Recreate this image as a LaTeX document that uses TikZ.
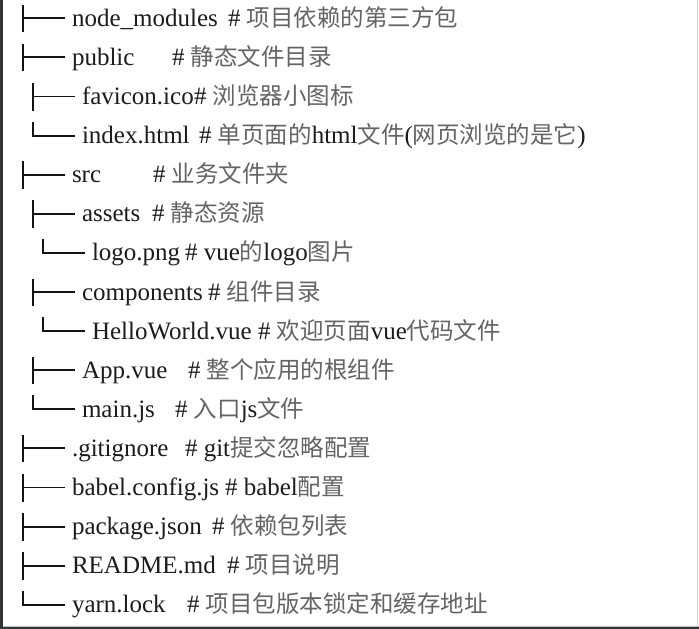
\documentclass[tikz,border=0pt]{standalone}
\usepackage{fontspec}
\setmainfont{Liberation Serif}
\newfontfamily\cjkfont[Scale=0.94]{Noto Sans CJK SC}
\definecolor{txt}{RGB}{28,28,28}
\definecolor{zhtxt}{RGB}{100,100,100}
\definecolor{frame}{RGB}{50,52,56}
\newcommand\zh[1]{{\cjkfont\color{zhtxt}#1}}
\tikzset{
  namestyle/.style={anchor=base west,inner sep=0pt,outer sep=0pt,text=txt,font=\fontsize{25}{29}\selectfont},
  cmtstyle/.style={anchor=base west,inner sep=0pt,outer sep=0pt,text=txt,font=\fontsize{25}{29}\selectfont},
  treeline/.style={draw=black!92,line width=1.9pt}
}
% #1 id, #2 row, #3 vertical x, #4 text x, #5 name, #6 hash x, #7 comment
\newcommand\placeentry[7]{%
  \pgfmathsetmacro\yc{18.3+39.1*(#2-1)}%
  \node[namestyle] (#1) at (#4,\yc+8) {#5};
  \node[cmtstyle] (#1c) at (#6,\yc+8) {#7};
  \coordinate (#1v) at (#3,\yc);
  \coordinate (#1h) at ([xshift=-7pt,yshift=8pt]#1.base west);
}
\newcommand\teeentry[7]{%
  \placeentry{#1}{#2}{#3}{#4}{#5}{#6}{#7}%
  \draw[treeline] ([yshift=13.5pt]#1v) -- ([yshift=-14pt]#1v);
  \draw[treeline] (#1v) -- (#1h);
}
\newcommand\lastentry[7]{%
  \placeentry{#1}{#2}{#3}{#4}{#5}{#6}{#7}%
  \draw[treeline] ([yshift=14pt]#1v) |- (#1h);
}
\begin{document}
\begin{tikzpicture}[x=1pt,y=-1pt]
\useasboundingbox (0,0) rectangle (699,629);
\fill[white] (0,0) rectangle (699,629);
% frame of the screenshot
\fill[frame] (0,0) rectangle (3,629);
\fill[frame] (0,627) rectangle (699,629);
\draw[black!18,line width=0.8pt] (697.5,0) -- (697.5,627);
\draw[black!25,line width=0.8pt] (3,626.3) -- (699,626.3);

\teeentry{a}{1}{22.7}{72}{node\_modules}{228}{\# \zh{项目依赖的第三方包}}
\teeentry{b}{2}{22.7}{72}{public}{172}{\# \zh{静态文件目录}}
\teeentry{c}{3}{32.7}{82}{favicon.ico}{194}{\# \zh{浏览器小图标}}
\lastentry{d}{4}{32.7}{82}{index.html}{199}{\# \zh{单页面的}html\zh{文件}(\zh{网页浏览的是它})}
\teeentry{e}{5}{22.7}{72}{src}{153}{\# \zh{业务文件夹}}
\teeentry{f}{6}{32.7}{82}{assets}{152}{\# \zh{静态资源}}
\lastentry{g}{7}{42.7}{92}{logo.png}{185}{\# vue\zh{的}logo\zh{图片}}
\teeentry{h}{8}{32.7}{82}{components}{208}{\# \zh{组件目录}}
\lastentry{i}{9}{42.7}{92}{HelloWorld.vue}{258}{\# \zh{欢迎页面}vue\zh{代码文件}}
\teeentry{j}{10}{32.7}{82}{App.vue}{188}{\# \zh{整个应用的根组件}}
\lastentry{k}{11}{32.7}{82}{main.js}{175}{\# \zh{入口}js\zh{文件}}
\teeentry{l}{12}{22.7}{72}{.gitignore}{185}{\# git\zh{提交忽略配置}}
\teeentry{m}{13}{22.7}{72}{babel.config.js}{225}{\# babel\zh{配置}}
\teeentry{n}{14}{22.7}{72}{package.json}{212}{\# \zh{依赖包列表}}
\teeentry{o}{15}{22.7}{72}{README.md}{227}{\# \zh{项目说明}}
\lastentry{p}{16}{22.7}{72}{yarn.lock}{187}{\# \zh{项目包版本锁定和缓存地址}}
\end{tikzpicture}
\end{document}
